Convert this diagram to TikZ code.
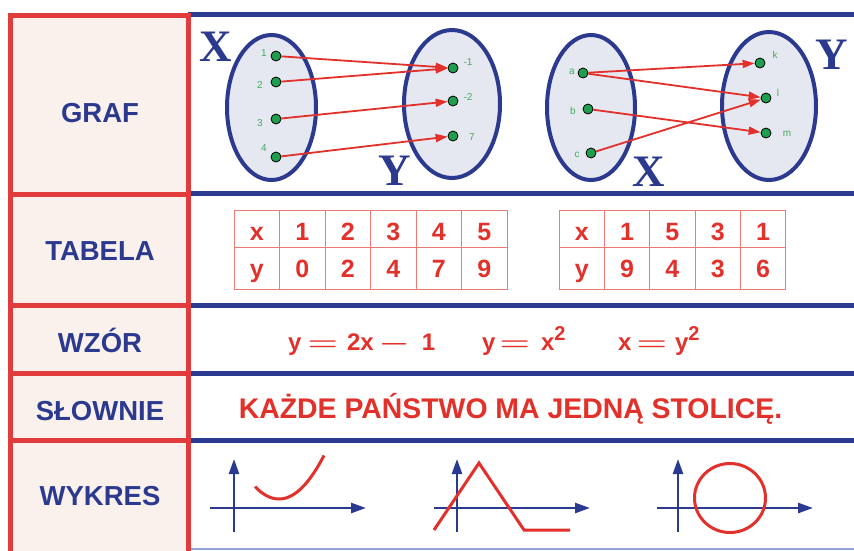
\documentclass[tikz,border=0pt]{standalone}
\usepackage{graphicx}
\usepackage{fontspec}
\setmainfont{Liberation Sans}
\newfontfamily\setfont{Liberation Serif}
\usepackage{tikz}
\usetikzlibrary{positioning,shapes.geometric,arrows.meta}
\definecolor{navy}{HTML}{2B3A8E}
\definecolor{frame}{HTML}{E23B3B}
\definecolor{ink}{HTML}{E2312B}
\definecolor{cellline}{HTML}{EC7A72}
\definecolor{paper}{HTML}{FBF1EC}
\definecolor{setfill}{HTML}{E5E7F1}
\definecolor{dotgreen}{HTML}{1F9E4E}
\definecolor{labgreen}{HTML}{42AC5C}
\definecolor{pale}{HTML}{93A3DA}
\newcommand{\wideeq}{\scalebox{1.4}[1]{\boldmath$=$}}
\newcommand{\wideminus}{\scalebox{1.4}[1]{\boldmath$-$}}
\tikzset{
        >={Triangle[length=12pt,width=8pt]}, % red arrow heads
        set/.style={ellipse, draw=navy, line width=4pt, fill=setfill, inner sep=0pt},
        elem/.style={circle, draw=black, line width=0.8pt, fill=dotgreen, minimum size=10pt, inner sep=0pt},
        elemlabel/.style={text=labgreen, font=\fontsize{10}{12}\selectfont, inner sep=0pt},
        mapsto/.style={->, draw=ink, line width=1.8pt},
        setname/.style={text=navy, font=\setfont\bfseries\fontsize{45}{50}\selectfont, inner sep=0pt},
        rowname/.style={text=navy, font=\bfseries\fontsize{27.5}{30}\selectfont, anchor=base},
        cell/.style={text=ink, font=\bfseries\fontsize{25}{28}\selectfont, anchor=base},
        formula/.style={text=ink, font=\bfseries\fontsize{24}{28}\selectfont, anchor=base west, inner sep=0pt},
        axis/.style={-{Triangle[length=15pt,width=10pt]}, draw=navy, line width=2.5pt},
        curve/.style={draw=ink, line width=3pt},
}
\begin{document}
\begin{tikzpicture}[x=1pt,y=-1pt]
\useasboundingbox (0,0) rectangle (854,550);
\fill[white] (0,0) rectangle (854,550);
% frame of the table
\fill[paper] (10.5,15.5) rectangle (188.5,552);
\foreach \y in {14.5,193.5,305,373.5,440}
  \draw[navy, line width=5pt] (188,\y) -- (854,\y);
\draw[pale, line width=2pt] (188,548.5) -- (854,548.5);
\draw[frame, line width=5pt] (10.5,552) -- (10.5,15.5) -- (188.5,15.5) -- (188.5,552);
\foreach \y in {194.5,305.5,373.5,440.5}
  \draw[frame, line width=5pt] (10.5,\y) -- (188.5,\y);
\foreach \y/\t [count=\i] in {122/GRAF,260/TABELA,352/WZÓR,420/SŁOWNIE,505/WYKRES}
  \node[rowname] (row\i) at (100,\y) {\t};

% graf: first mapping
\node[set, minimum width=89pt, minimum height=145pt] (X1) at (271.5,107.5) {};
\node[set, minimum width=96pt, minimum height=148pt] (Y1) at (452,104) {};
\node[setname] (X1name) at (216,47) {X};
\node[setname] (Y1name) at (395,171) {Y};
\foreach \n/\y/\lx/\ly in {1/56/264/53,2/82/260/85,3/119/260/123,4/157/264/148}{
  \node[elem] (p\n) at (276,\y) {};
  \node[elemlabel] (lp\n) at (\lx,\ly) {\n};
}
\foreach \n/\y/\t/\lx/\ly in {1/68/-1/468/62,2/101/-2/468/97,3/136/7/472/137}{
  \node[elem] (q\n) at (453,\y) {};
  \node[elemlabel] (lq\n) at (\lx,\ly) {\t};
}
\foreach \a/\b in {p1/q1,p2/q1,p3/q2,p4/q3}
  \draw[mapsto] (\a) -- (\b);

% graf: second relation
\node[set, minimum width=88pt, minimum height=145pt] (X2) at (591,107.5) {};
\node[set, minimum width=94pt, minimum height=148pt] (Y2) at (769,106) {};
\node[setname] (X2name) at (649,172) {X};
\node[setname] (Y2name) at (832,55) {Y};
\foreach \n/\x/\y/\lx/\ly in {a/583/73/572/72,b/588/109/573/111,c/591/153/577/155}{
  \node[elem] (\n) at (\x,\y) {};
  \node[elemlabel] (l\n) at (\lx,\ly) {\n};
}
\foreach \n/\x/\y/\lx/\ly in {k/760/63/775/55,l/766/98/778/93,m/766/133/787/134}{
  \node[elem] (\n) at (\x,\y) {};
  \node[elemlabel] (l\n) at (\lx,\ly) {\n};
}
\foreach \a/\b in {a/k,a/l,b/m,c/l}
  \draw[mapsto] (\a) -- (\b);

% tabela
\foreach \i/\a/\b in {0/x/y,1/1/0,2/2/2,3/3/4,4/4/7,5/5/9}{
  \draw[cellline, line width=1pt] (234+45.5*\i,210.5) rectangle ++(45.5,37) rectangle ++(-45.5,42);
  \node[cell] (ta\i) at (256.75+45.5*\i,240) {\a};
  \node[cell] (tb\i) at (256.75+45.5*\i,277) {\b};
}
\foreach \i/\a/\b in {0/x/y,1/1/9,2/5/4,3/3/3,4/1/6}{
  \draw[cellline, line width=1pt] (559+45.35*\i,210.5) rectangle ++(45.35,37) rectangle ++(-45.35,42);
  \node[cell] (sa\i) at (581.7+45.35*\i,240) {\a};
  \node[cell] (sb\i) at (581.7+45.35*\i,277) {\b};
}

% wzor
\node[formula] (f1) at (288,350) {y\hspace{6pt}\wideeq\hspace{9pt}2x\hspace{5pt}\wideminus\hspace{12pt}1};
\node[formula] (f2) at (482,350) {y\hspace{4pt}\wideeq\hspace{11pt}x\textsuperscript{\fontsize{20}{20}\selectfont 2}};
\node[formula] (f3) at (618,350) {x\hspace{5pt}\wideeq\hspace{8pt}y\textsuperscript{\fontsize{20}{20}\selectfont 2}};

% slownie
\node[text=ink, font=\bfseries\fontsize{28.4}{30}\selectfont, anchor=base] (words) at (510.5,418) {KAŻDE PAŃSTWO MA JEDNĄ STOLICĘ.};

% wykres
\foreach \ox/\vx in {210/234,434/457,657/678}{
  \draw[axis] (\ox,508) -- (\ox+156,508);
  \draw[axis] (\vx,532) -- (\vx,459);
}
\draw[curve] plot[domain=255:324, samples=40] (\x,{499-0.0215*(\x-279)^2});
\draw[curve] (434,530) -- (479,463) -- (524,530) -- (570,530);
\draw[curve] (730,498) ellipse [x radius=35.5pt, y radius=34.5pt];
\end{tikzpicture}
\end{document}
